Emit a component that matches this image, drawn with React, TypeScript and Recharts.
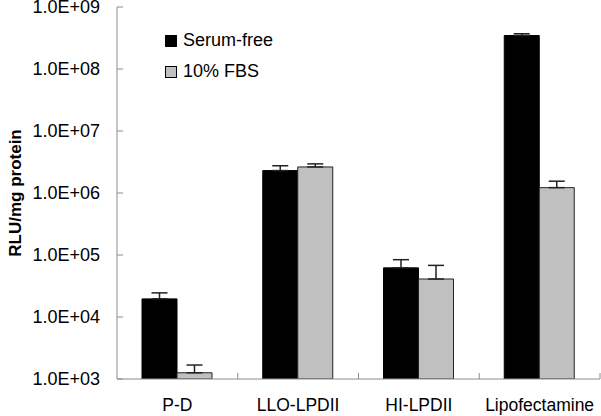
import React from 'react'
import { BarChart, Bar, XAxis, YAxis, ErrorBar } from 'recharts'

const categories = ['P-D', 'LLO-LPDII', 'HI-LPDII', 'Lipofectamine']
const serumFree = [19600, 2300000, 62000, 347000000]
const serumFreeErr = [4900, 450000, 22000, 23000000]
const fbs = [1260, 2630000, 41000, 1220000]
const fbsErr = [420, 320000, 27000, 330000]
const yTicks = [1e3, 1e4, 1e5, 1e6, 1e7, 1e8, 1e9]
const legendItems = [
  { label: 'Serum-free', color: '#000' },
  { label: '10% FBS', color: '#c0c0c0' },
]

const data = categories.map((name, i) => ({
  name,
  serumFree: serumFree[i],
  serumFreeErr: [0, serumFreeErr[i]],
  fbs: fbs[i],
  fbsErr: [0, fbsErr[i]],
}))

const W = 601
const H = 416
const margin = { top: 7, right: 1, left: 0, bottom: 0 }
const yAxisWidth = 117
const xAxisHeight = 37
const bandWidth = (W - margin.left - margin.right - yAxisWidth) / categories.length
const font = '"Liberation Sans", Arial, sans-serif'
const axisColor = '#8c8c8c'

const formatExp = (v: number) => `1.0E+${String(Math.round(Math.log10(v))).padStart(2, '0')}`

const YTick = ({ x, y, payload }: any) => (
  <g>
    <line x1={x} y1={y} x2={x + 6} y2={y} stroke={axisColor} />
    <text x={x - 17} y={y} textAnchor="end" dominantBaseline="central" fontSize={18} fill="#000" fontFamily={font}>
      {formatExp(payload.value)}
    </text>
  </g>
)

const XTick = ({ x, y, payload }: any) => (
  <g>
    <line x1={x + bandWidth / 2} y1={y} x2={x + bandWidth / 2} y2={y - 6} stroke={axisColor} />
    <text x={x} y={y + 32} textAnchor="middle" fontSize={17.5} fill="#000" fontFamily={font}>
      {payload.value}
    </text>
  </g>
)

// legend drawn as an overlay so it doesn't shrink the plot area
const LegendBox = () => (
  <div style={{ position: 'absolute', left: 165, top: 25, fontFamily: font, fontSize: 18, color: '#000' }}>
    {legendItems.map((item) => (
      <div key={item.label} style={{ display: 'flex', alignItems: 'center', height: 31 }}>
        <span style={{ width: 10, height: 10, background: item.color, border: '1px solid #000', marginRight: 6 }} />
        <span>{item.label}</span>
      </div>
    ))}
  </div>
)

export default function App() {
  return (
    <div style={{ position: 'absolute', left: 0, top: 0, width: W, height: H, background: '#fff' }}>
      <BarChart width={W} height={H} data={data} margin={margin} barSize={35} barGap={0}>
        <XAxis
          dataKey="name"
          height={xAxisHeight}
          stroke={axisColor}
          tickLine={false}
          tickSize={0}
          tickMargin={0}
          tick={<XTick />}
          interval={0}
        />
        <YAxis
          width={yAxisWidth}
          scale="log"
          domain={[1e3, 1e9]}
          ticks={yTicks}
          allowDataOverflow
          stroke={axisColor}
          tickLine={false}
          tickSize={0}
          tickMargin={0}
          tick={<YTick />}
          interval={0}
          label={{
            content: ({ viewBox }: any) => {
              const cx = viewBox.x + 15
              const cy = viewBox.y + viewBox.height / 2
              return (
                <text
                  x={cx}
                  y={cy}
                  transform={`rotate(-90, ${cx}, ${cy})`}
                  textAnchor="middle"
                  dominantBaseline="central"
                  fontSize={17}
                  fontWeight="bold"
                  fontFamily={font}
                  fill="#000"
                >
                  RLU/mg protein
                </text>
              )
            },
          }}
        />
        <Bar dataKey="serumFree" name="Serum-free" fill="#000" stroke="#000" strokeWidth={1} isAnimationActive={false}>
          <ErrorBar dataKey="serumFreeErr" direction="y" width={8} stroke="#222" strokeWidth={1.5} isAnimationActive={false} />
        </Bar>
        <Bar dataKey="fbs" name="10% FBS" fill="#c0c0c0" stroke="#222" strokeWidth={1} isAnimationActive={false}>
          <ErrorBar dataKey="fbsErr" direction="y" width={8} stroke="#222" strokeWidth={1.5} isAnimationActive={false} />
        </Bar>
      </BarChart>
      <LegendBox />
    </div>
  )
}
